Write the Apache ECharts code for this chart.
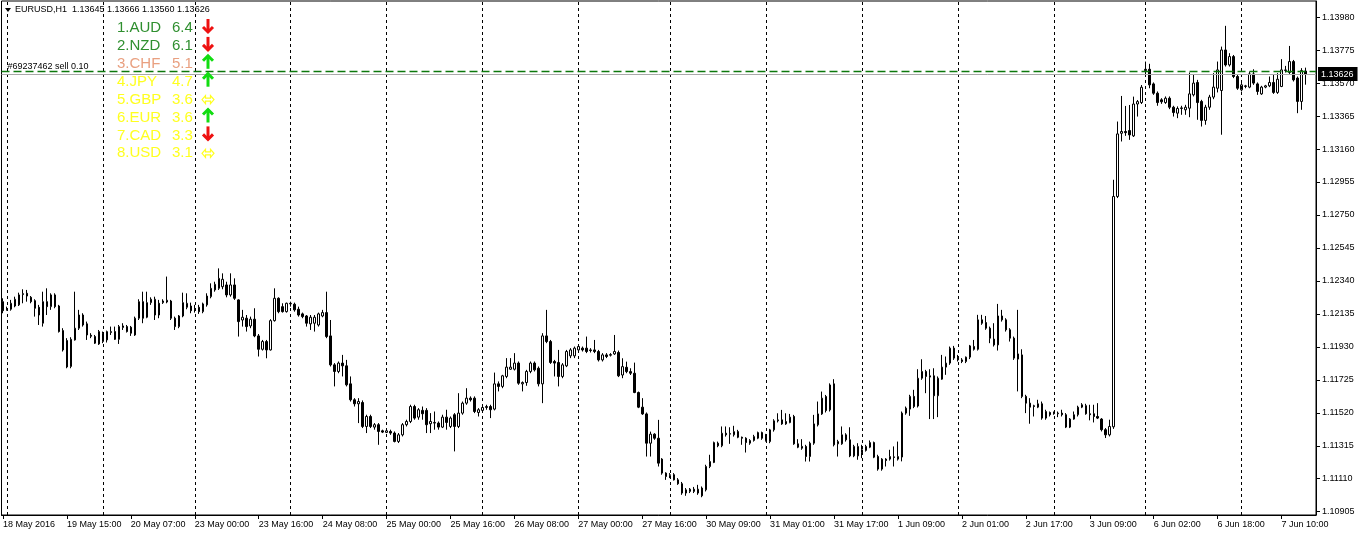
<!DOCTYPE html>
<html><head><meta charset="utf-8">
<script src="https://cdn.jsdelivr.net/npm/echarts@6/dist/echarts.min.js"></script>
<style>html,body{margin:0;padding:0;background:#fff;}#chart{width:1360px;height:536px;}</style>
</head><body><div id="chart"></div>
<script>
const symbolName = 'EURUSD,H1';
// trading sessions: [day, first hour, last hour]
const sessionDays = [['18 May',23,23],['19 May',0,23],['20 May',0,22],['23 May',0,23],['24 May',0,23],['25 May',0,23],['26 May',0,23],['27 May',0,22],['30 May',0,23],['31 May',0,23],['1 Jun',0,23],['2 Jun',0,23],['3 Jun',0,22],['6 Jun',0,23],['7 Jun',0,16]];
const timeLabels = ['18 May 2016','19 May 15:00','20 May 07:00','23 May 00:00','23 May 16:00','24 May 08:00','25 May 00:00','25 May 16:00','26 May 08:00','27 May 00:00','27 May 16:00','30 May 09:00','31 May 01:00','31 May 17:00','1 Jun 09:00','2 Jun 01:00','2 Jun 17:00','3 Jun 09:00','6 Jun 02:00','6 Jun 18:00','7 Jun 10:00'];
const priceTicks = [1.10905,1.11110,1.11315,1.11520,1.11725,1.11930,1.12135,1.12340,1.12545,1.12750,1.12955,1.13160,1.13365,1.13570,1.13775,1.13980];
const bidPrice = 1.13626;
const orderPrice = 1.13641;
const orderText = '#69237462 sell 0.10';
const strengthNames = ['AUD','NZD','CHF','JPY','GBP','EUR','CAD','USD'];
const strengthValues = [6.4,6.1,5.1,4.7,3.6,3.6,3.3,3.1];
const strengthTrend = ['down','down','up','up','flat','up','down','flat'];
const strengthColors = ['#2f8f2f','#2f8f2f','#e9a080','#ffff20','#ffff20','#ffff20','#ffff20','#ffff20'];
// bars: [open, high, low, close]
const bars = [
[1.12211,1.12232,1.12139,1.12155],[1.12164,1.12180,1.12155,1.12166],[1.12164,1.12222,1.12155,1.12201],[1.12184,1.12242,1.12176,1.12226],
[1.12191,1.12267,1.12184,1.12253],[1.12255,1.12288,1.12201,1.12261],[1.12263,1.12284,1.12211,1.12246],[1.12238,1.12246,1.12201,1.12211],
[1.12217,1.12226,1.12118,1.12170],[1.12176,1.12191,1.12066,1.12128],[1.12077,1.12273,1.12056,1.12211],[1.12211,1.12294,1.12128,1.12180],
[1.12180,1.12263,1.12160,1.12253],[1.12253,1.12263,1.12170,1.12180],[1.12184,1.12191,1.12019,1.12025],[1.12031,1.12046,1.11901,1.11911],
[1.11969,1.11984,1.11797,1.11805],[1.11808,1.11990,1.11797,1.11977],[1.11973,1.12273,1.11969,1.12046],[1.12046,1.12160,1.12035,1.12128],
[1.12128,1.12139,1.12056,1.12066],[1.12073,1.12087,1.11973,1.12004],[1.12002,1.12015,1.11984,1.11996],[1.11994,1.12004,1.11948,1.11953],
[1.11948,1.12035,1.11942,1.12025],[1.11963,1.12025,1.11953,1.12015],[1.11973,1.12031,1.11957,1.12025],[1.12019,1.12056,1.12004,1.12025],
[1.12025,1.12056,1.11973,1.11977],[1.11977,1.12066,1.11948,1.12056],[1.12050,1.12077,1.12035,1.12060],[1.12056,1.12066,1.12019,1.12025],
[1.12052,1.12060,1.11998,1.12015],[1.12004,1.12118,1.11998,1.12108],[1.12108,1.12226,1.12097,1.12211],[1.12211,1.12273,1.12077,1.12108],
[1.12114,1.12273,1.12108,1.12205],[1.12205,1.12238,1.12191,1.12226],[1.12128,1.12242,1.12097,1.12226],[1.12201,1.12222,1.12108,1.12128],
[1.12205,1.12226,1.12197,1.12215],[1.12209,1.12367,1.12201,1.12220],[1.12215,1.12222,1.12097,1.12108],[1.12108,1.12118,1.12035,1.12056],
[1.12056,1.12128,1.12046,1.12122],[1.12122,1.12267,1.12114,1.12205],[1.12176,1.12263,1.12164,1.12201],[1.12184,1.12205,1.12139,1.12155],
[1.12160,1.12191,1.12143,1.12166],[1.12176,1.12191,1.12135,1.12149],[1.12149,1.12205,1.12139,1.12197],[1.12191,1.12263,1.12180,1.12246],
[1.12242,1.12325,1.12232,1.12294],[1.12284,1.12335,1.12273,1.12319],[1.12294,1.12418,1.12284,1.12356],[1.12304,1.12387,1.12288,1.12350],
[1.12315,1.12335,1.12238,1.12253],[1.12253,1.12387,1.12242,1.12315],[1.12315,1.12356,1.12222,1.12232],[1.12222,1.12226,1.11994,1.12087],
[1.12097,1.12160,1.12056,1.12114],[1.12108,1.12128,1.12025,1.12056],[1.12060,1.12118,1.12046,1.12102],[1.12102,1.12170,1.11990,1.11998],
[1.11998,1.12010,1.11870,1.11915],[1.11915,1.11973,1.11907,1.11963],[1.11963,1.11973,1.11859,1.11911],[1.11911,1.12102,1.11907,1.12093],
[1.12093,1.12294,1.12087,1.12232],[1.12232,1.12238,1.12139,1.12149],[1.12180,1.12201,1.12143,1.12149],[1.12149,1.12205,1.12143,1.12201],
[1.12197,1.12211,1.12180,1.12201],[1.12195,1.12205,1.12149,1.12160],[1.12164,1.12180,1.12118,1.12128],[1.12135,1.12143,1.12108,1.12118],
[1.12122,1.12128,1.12056,1.12077],[1.12073,1.12128,1.12035,1.12114],[1.12077,1.12128,1.12025,1.12114],[1.12066,1.12143,1.12056,1.12135],
[1.12122,1.12160,1.12114,1.12143],[1.12143,1.12273,1.11984,1.11994],[1.11998,1.12097,1.11808,1.11818],[1.11818,1.11829,1.11684,1.11777],
[1.11777,1.11839,1.11766,1.11829],[1.11829,1.11880,1.11746,1.11812],[1.11812,1.11849,1.11684,1.11694],[1.11700,1.11746,1.11590,1.11601],
[1.11601,1.11611,1.11559,1.11576],[1.11576,1.11611,1.11456,1.11590],[1.11584,1.11597,1.11425,1.11435],[1.11435,1.11508,1.11394,1.11497],
[1.11497,1.11508,1.11425,1.11435],[1.11431,1.11456,1.11415,1.11446],[1.11446,1.11456,1.11321,1.11404],[1.11408,1.11415,1.11394,1.11400],
[1.11398,1.11425,1.11394,1.11408],[1.11404,1.11415,1.11383,1.11394],[1.11394,1.11404,1.11336,1.11342],[1.11342,1.11394,1.11332,1.11383],
[1.11383,1.11456,1.11373,1.11446],[1.11446,1.11477,1.11435,1.11466],[1.11466,1.11570,1.11456,1.11559],[1.11559,1.11570,1.11477,1.11487],
[1.11493,1.11549,1.11477,1.11539],[1.11535,1.11559,1.11477,1.11514],[1.11535,1.11549,1.11394,1.11446],[1.11452,1.11518,1.11394,1.11466],
[1.11456,1.11528,1.11415,1.11460],[1.11456,1.11466,1.11415,1.11431],[1.11431,1.11508,1.11425,1.11493],[1.11493,1.11539,1.11415,1.11460],
[1.11435,1.11497,1.11425,1.11487],[1.11508,1.11518,1.11280,1.11435],[1.11435,1.11642,1.11425,1.11518],[1.11518,1.11590,1.11508,1.11580],
[1.11580,1.11673,1.11570,1.11611],[1.11611,1.11622,1.11590,1.11601],[1.11611,1.11622,1.11518,1.11528],[1.11522,1.11549,1.11497,1.11539],
[1.11535,1.11559,1.11528,1.11553],[1.11553,1.11570,1.11539,1.11559],[1.11559,1.11570,1.11487,1.11539],[1.11543,1.11770,1.11535,1.11700],
[1.11700,1.11715,1.11653,1.11684],[1.11684,1.11756,1.11673,1.11750],[1.11746,1.11860,1.11735,1.11804],[1.11791,1.11860,1.11787,1.11804],
[1.11791,1.11891,1.11783,1.11829],[1.11829,1.11839,1.11694,1.11704],[1.11700,1.11715,1.11653,1.11708],[1.11708,1.11787,1.11688,1.11777],
[1.11777,1.11839,1.11766,1.11829],[1.11829,1.11839,1.11777,1.11787],[1.11797,1.11808,1.11684,1.11700],[1.11700,1.12015,1.11580,1.11998],
[1.11998,1.12160,1.11953,1.11963],[1.11963,1.11973,1.11824,1.11833],[1.11839,1.11849,1.11746,1.11829],[1.11833,1.11911,1.11684,1.11746],
[1.11746,1.11829,1.11735,1.11818],[1.11812,1.11911,1.11804,1.11901],[1.11874,1.11922,1.11860,1.11911],[1.11874,1.11932,1.11860,1.11922],
[1.11911,1.11942,1.11901,1.11932],[1.11922,1.11932,1.11901,1.11911],[1.11922,1.11994,1.11891,1.11901],[1.11911,1.11922,1.11895,1.11907],
[1.11911,1.11973,1.11891,1.11901],[1.11901,1.11911,1.11839,1.11849],[1.11849,1.11891,1.11839,1.11880],[1.11880,1.11891,1.11860,1.11870],
[1.11878,1.11891,1.11870,1.11882],[1.11886,1.12004,1.11880,1.11901],[1.11895,1.11907,1.11742,1.11750],[1.11755,1.11859,1.11735,1.11807],
[1.11803,1.11838,1.11766,1.11776],[1.11776,1.11797,1.11755,1.11766],[1.11766,1.11832,1.11642,1.11646],[1.11646,1.11652,1.11549,1.11555],
[1.11555,1.11611,1.11507,1.11513],[1.11513,1.11522,1.11248,1.11331],[1.11331,1.11403,1.11248,1.11387],[1.11387,1.11393,1.11352,1.11362],
[1.11362,1.11476,1.11186,1.11207],[1.11232,1.11238,1.11135,1.11145],[1.11145,1.11150,1.11103,1.11124],[1.11130,1.11145,1.11114,1.11135],
[1.11135,1.11145,1.11099,1.11103],[1.11103,1.11114,1.11072,1.11079],[1.11079,1.11090,1.11010,1.11021],[1.11021,1.11052,1.11004,1.11041],
[1.11031,1.11052,1.11021,1.11045],[1.11031,1.11059,1.11021,1.11045],[1.11021,1.11072,1.11010,1.11045],[1.11052,1.11062,1.10995,1.11004],
[1.11041,1.11197,1.11031,1.11186],[1.11186,1.11259,1.11176,1.11217],[1.11211,1.11341,1.11207,1.11335],[1.11331,1.11341,1.11306,1.11315],
[1.11315,1.11435,1.11306,1.11393],[1.11393,1.11435,1.11372,1.11383],[1.11387,1.11430,1.11327,1.11391],[1.11383,1.11439,1.11372,1.11403],
[1.11403,1.11414,1.11362,1.11368],[1.11368,1.11372,1.11321,1.11362],[1.11362,1.11368,1.11273,1.11335],[1.11331,1.11356,1.11321,1.11348],
[1.11348,1.11383,1.11341,1.11372],[1.11362,1.11403,1.11356,1.11397],[1.11397,1.11403,1.11352,1.11362],[1.11383,1.11389,1.11341,1.11348],
[1.11341,1.11420,1.11331,1.11414],[1.11414,1.11480,1.11403,1.11470],[1.11470,1.11517,1.11460,1.11476],[1.11476,1.11538,1.11445,1.11451],
[1.11451,1.11517,1.11445,1.11466],[1.11459,1.11513,1.11455,1.11493],[1.11497,1.11507,1.11321,1.11327],[1.11327,1.11356,1.11300,1.11306],
[1.11311,1.11356,1.11290,1.11300],[1.11311,1.11321,1.11217,1.11248],[1.11248,1.11341,1.11217,1.11331],[1.11331,1.11507,1.11321,1.11451],
[1.11445,1.11590,1.11435,1.11513],[1.11513,1.11652,1.11507,1.11611],[1.11621,1.11631,1.11522,1.11534],[1.11538,1.11703,1.11528,1.11693],
[1.11700,1.11729,1.11311,1.11321],[1.11327,1.11352,1.11248,1.11341],[1.11327,1.11435,1.11321,1.11383],[1.11383,1.11393,1.11341,1.11352],
[1.11352,1.11430,1.11244,1.11252],[1.11252,1.11321,1.11244,1.11311],[1.11252,1.11331,1.11228,1.11311],[1.11273,1.11321,1.11238,1.11290],
[1.11286,1.11321,1.11279,1.11311],[1.11306,1.11348,1.11300,1.11335],[1.11335,1.11341,1.11238,1.11244],[1.11248,1.11259,1.11160,1.11170],
[1.11170,1.11238,1.11160,1.11232],[1.11232,1.11238,1.11186,1.11223],[1.11232,1.11290,1.11223,1.11248],[1.11246,1.11311,1.11186,1.11242],
[1.11232,1.11341,1.11223,1.11248],[1.11245,1.11528,1.11218,1.11518],[1.11518,1.11559,1.11508,1.11549],[1.11543,1.11632,1.11501,1.11622],
[1.11622,1.11663,1.11549,1.11559],[1.11562,1.11791,1.11553,1.11735],[1.11735,1.11853,1.11725,1.11777],[1.11777,1.11787,1.11642,1.11746],
[1.11750,1.11791,1.11481,1.11742],[1.11750,1.11797,1.11481,1.11626],[1.11626,1.11746,1.11493,1.11735],[1.11729,1.11880,1.11725,1.11804],
[1.11804,1.11870,1.11756,1.11829],[1.11829,1.11932,1.11818,1.11922],[1.11922,1.11936,1.11849,1.11860],[1.11866,1.11880,1.11839,1.11849],
[1.11849,1.11860,1.11829,1.11839],[1.11839,1.11870,1.11829,1.11866],[1.11866,1.11942,1.11854,1.11936],[1.11932,1.11973,1.11907,1.11915],
[1.11915,1.12129,1.11907,1.12098],[1.12098,1.12129,1.12067,1.12077],[1.12081,1.12122,1.12036,1.12046],[1.12046,1.12056,1.11953,1.11984],
[1.11978,1.12077,1.11932,1.11942],[1.11942,1.12197,1.11907,1.12122],[1.12122,1.12160,1.12087,1.12098],[1.12098,1.12108,1.12025,1.12036],
[1.12036,1.12046,1.11963,1.11984],[1.11984,1.11994,1.11849,1.11860],[1.11854,1.12160,1.11653,1.11886],[1.11880,1.11915,1.11611,1.11622],
[1.11622,1.11632,1.11518,1.11580],[1.11580,1.11611,1.11452,1.11555],[1.11564,1.11570,1.11497,1.11559],[1.11555,1.11601,1.11549,1.11576],
[1.11576,1.11590,1.11477,1.11487],[1.11487,1.11539,1.11477,1.11528],[1.11522,1.11528,1.11497,1.11508],[1.11518,1.11528,1.11508,1.11514],
[1.11514,1.11528,1.11493,1.11518],[1.11518,1.11539,1.11497,1.11508],[1.11508,1.11518,1.11425,1.11431],[1.11431,1.11487,1.11425,1.11481],
[1.11481,1.11528,1.11477,1.11508],[1.11508,1.11564,1.11497,1.11555],[1.11555,1.11580,1.11549,1.11570],[1.11564,1.11576,1.11508,1.11514],
[1.11514,1.11570,1.11473,1.11508],[1.11514,1.11570,1.11460,1.11497],[1.11497,1.11580,1.11481,1.11487],[1.11481,1.11487,1.11404,1.11415],
[1.11415,1.11425,1.11363,1.11383],[1.11383,1.11477,1.11373,1.11435],[1.11433,1.12969,1.11420,1.12865],[1.12865,1.13331,1.12855,1.13254],
[1.13258,1.13490,1.13207,1.13269],[1.13269,1.13428,1.13242,1.13262],[1.13275,1.13434,1.13217,1.13248],[1.13242,1.13486,1.13235,1.13440],
[1.13440,1.13465,1.13362,1.13455],[1.13449,1.13558,1.13440,1.13544],[1.13648,1.13704,1.13621,1.13656],[1.13656,1.13690,1.13538,1.13559],
[1.13565,1.13574,1.13497,1.13507],[1.13507,1.13518,1.13429,1.13449],[1.13466,1.13476,1.13441,1.13454],[1.13449,1.13487,1.13441,1.13476],
[1.13476,1.13487,1.13408,1.13420],[1.13420,1.13429,1.13362,1.13387],[1.13383,1.13425,1.13352,1.13412],[1.13412,1.13429,1.13373,1.13416],
[1.13404,1.13435,1.13373,1.13420],[1.13414,1.13636,1.13358,1.13503],[1.13497,1.13621,1.13487,1.13570],[1.13574,1.13590,1.13342,1.13449],
[1.13456,1.13466,1.13300,1.13338],[1.13338,1.13435,1.13311,1.13420],[1.13420,1.13497,1.13404,1.13483],[1.13483,1.13632,1.13470,1.13545],
[1.13538,1.13704,1.13512,1.13652],[1.13524,1.13797,1.13249,1.13776],[1.13776,1.13926,1.13673,1.13683],[1.13683,1.13756,1.13673,1.13735],
[1.13735,1.13745,1.13601,1.13611],[1.13611,1.13621,1.13528,1.13538],[1.13528,1.13570,1.13518,1.13559],[1.13549,1.13559,1.13538,1.13553],
[1.13545,1.13642,1.13538,1.13627],[1.13627,1.13656,1.13559,1.13570],[1.13565,1.13574,1.13497,1.13518],[1.13503,1.13553,1.13497,1.13545],
[1.13545,1.13559,1.13538,1.13553],[1.13553,1.13611,1.13545,1.13574],[1.13574,1.13621,1.13503,1.13512],[1.13512,1.13632,1.13503,1.13594],
[1.13549,1.13719,1.13545,1.13652],[1.13648,1.13677,1.13636,1.13652],[1.13636,1.13801,1.13627,1.13704],[1.13704,1.13714,1.13580,1.13590],
[1.13601,1.13611,1.13383,1.13456],[1.13456,1.13663,1.13404,1.13648],[1.13645,1.13666,1.13560,1.13626]
];

// ---- build library structures ----
const categories = [];
sessionDays.forEach(([d, h0, h1]) => { for (let h = h0; h <= h1; h++) categories.push(d + ' ' + String(h).padStart(2, '0') + ':00'); });
const timeTickIdx = timeLabels.map((l, k) => k === 0 ? 0 : categories.indexOf(l));
const labelAt = {}; timeTickIdx.forEach((i, k) => labelAt[i] = timeLabels[k]);
const midnightIdx = categories.map((c, i) => c.endsWith(' 00:00') ? i : -1).filter(i => i >= 0);
const candleData = bars.map((b, i) => [i, b[0], b[3], b[2], b[1]]);
const last = bars[bars.length - 1];
const headerText = symbolName + '  ' + last.map(v => v.toFixed(5)).join(' ');

const FONT = '"Liberation Sans", Arial, sans-serif';
const chart = echarts.init(document.getElementById('chart'), null, {renderer: 'canvas'});

const graphics = [
  {type: 'polygon', shape: {points: [[5, 8], [11, 8], [8, 12]]}, style: {fill: '#000'}, z: 10},
  {type: 'text', x: 15, y: 10, style: {text: headerText, fill: '#000', font: '9px ' + FONT, textVerticalAlign: 'middle'}, z: 10}
];
strengthNames.forEach((n, k) => {
  const y = 28 + k * 17.9;
  graphics.push({type: 'text', x: 117, y: y, style: {text: (k + 1) + '.' + n, fill: strengthColors[k], font: '15px ' + FONT, textVerticalAlign: 'middle'}, z: 10});
  graphics.push({type: 'text', x: 172, y: y, style: {text: strengthValues[k].toFixed(1), fill: strengthColors[k], font: '15px ' + FONT, textVerticalAlign: 'middle'}, z: 10});
  const t = strengthTrend[k], ay = y - 2, ax = 208;
  if (t === 'down') {
    graphics.push({type: 'line', shape: {x1: ax, y1: ay - 7, x2: ax, y2: ay + 6}, style: {stroke: '#ee1111', lineWidth: 3}, z: 10});
    graphics.push({type: 'polyline', shape: {points: [[ax - 5, ay + 1], [ax, ay + 6], [ax + 5, ay + 1]]}, style: {stroke: '#ee1111', lineWidth: 3, fill: null}, z: 10});
  } else if (t === 'up') {
    graphics.push({type: 'line', shape: {x1: ax, y1: ay + 7, x2: ax, y2: ay - 6}, style: {stroke: '#11dd11', lineWidth: 3}, z: 10});
    graphics.push({type: 'polyline', shape: {points: [[ax - 5, ay - 1], [ax, ay - 6], [ax + 5, ay - 1]]}, style: {stroke: '#11dd11', lineWidth: 3, fill: null}, z: 10});
  } else {
    const cy = y;
    graphics.push({type: 'polygon', shape: {points: [[ax - 6, cy], [ax - 2.5, cy - 4], [ax - 2.5, cy - 1.5], [ax + 2.5, cy - 1.5], [ax + 2.5, cy - 4], [ax + 6, cy], [ax + 2.5, cy + 4], [ax + 2.5, cy + 1.5], [ax - 2.5, cy + 1.5], [ax - 2.5, cy + 4]]},
      style: {stroke: strengthColors[k], lineWidth: 1.2, fill: null}, z: 10});
  }
});

const option = {
  animation: false,
  backgroundColor: '#fff',
  textStyle: {fontFamily: FONT},
  grid: {left: 0, top: 1, width: 1316, height: 514, show: true, borderColor: '#000', borderWidth: 1, backgroundColor: 'transparent'},
  xAxis: {
    type: 'value', min: -0.375, max: 328.625,
    axisLine: {show: true, onZero: false, lineStyle: {color: '#000', width: 1}},
    axisTick: {show: true, customValues: timeTickIdx, length: 4, lineStyle: {color: '#000'}},
    axisLabel: {show: true, customValues: timeTickIdx, formatter: v => labelAt[v] || '', align: 'left', margin: 5, color: '#000', fontSize: 9, fontFamily: FONT},
    splitLine: {show: false}
  },
  yAxis: {
    type: 'value', position: 'right', min: 1.108845, max: 1.140805, scale: true,
    axisLine: {show: true, onZero: false, lineStyle: {color: '#000', width: 1}},
    axisTick: {show: true, customValues: priceTicks, length: 4, lineStyle: {color: '#000'}},
    axisLabel: {show: true, customValues: priceTicks, formatter: v => v.toFixed(5), margin: 6, color: '#000', fontSize: 9, fontFamily: FONT},
    splitLine: {show: false}
  },
  graphic: graphics,
  series: [
    {
      type: 'line', data: [], z: 1, silent: true,
      markLine: {
        silent: true, symbol: ['none', 'none'], animation: false, precision: 6,
        label: {show: false},
        lineStyle: {color: '#000', type: [3, 3], width: 1},
        data: midnightIdx.map(i => ({xAxis: i}))
      }
    },
    {
      type: 'line', data: [], z: 1, silent: true,
      markLine: {
        silent: true, symbol: ['none', 'none'], animation: false, precision: 6,
        data: [
          {yAxis: bidPrice, lineStyle: {color: '#a8a8a8', type: 'solid', width: 1},
           label: {show: true, position: 'end', formatter: bidPrice.toFixed(5), color: '#fff', backgroundColor: '#000', padding: [3, 4, 2, 3], fontSize: 9, fontFamily: FONT, distance: 2}},
          {yAxis: orderPrice, lineStyle: {color: '#0c780c', type: [8, 4], width: 1.3},
           label: {show: true, position: 'insideStartTop', formatter: orderText, color: '#000', fontSize: 9, fontFamily: FONT, distance: [6, 1]}}
        ]
      }
    },
    {
      type: 'candlestick', z: 3, barWidth: 2, data: candleData,
      encode: {x: 0, y: [1, 2, 3, 4]},
      itemStyle: {color: '#fff', color0: '#000', borderColor: '#000', borderColor0: '#000', borderColorDoji: '#000', borderWidth: 1},
      emphasis: {disabled: true}
    }
  ]
};
chart.setOption(option);
</script>
</body></html>
